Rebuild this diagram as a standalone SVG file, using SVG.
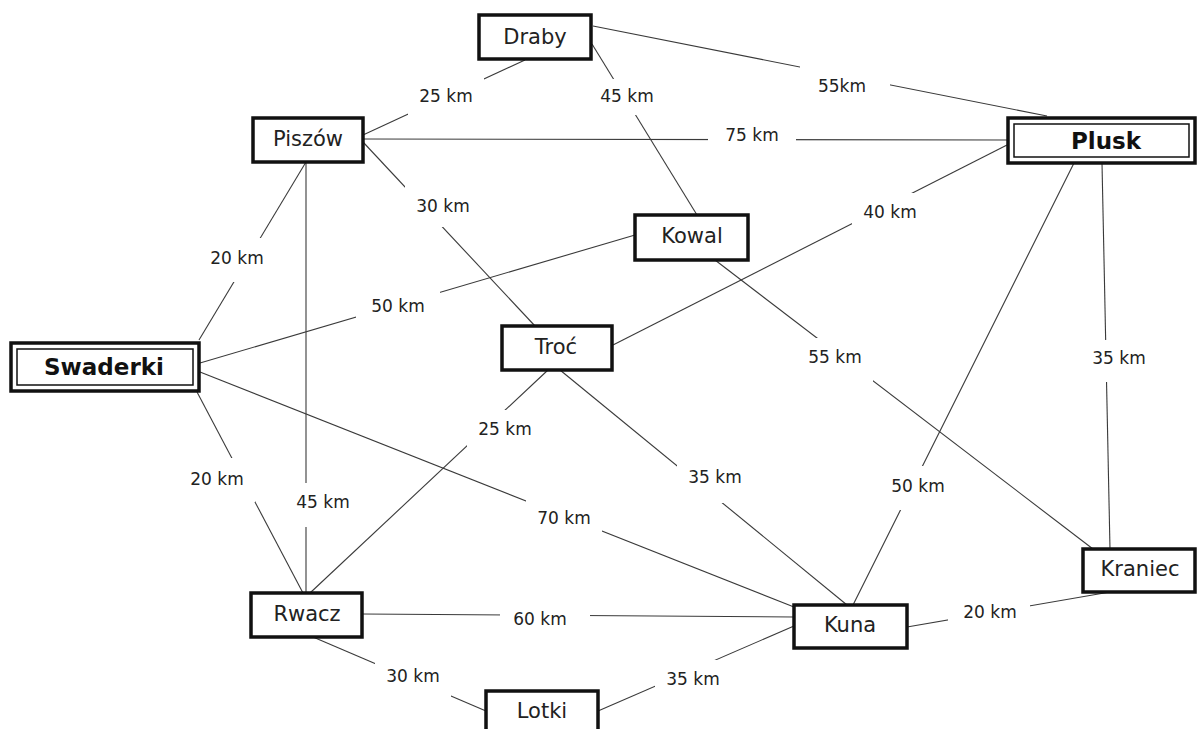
<svg xmlns="http://www.w3.org/2000/svg" width="1197" height="729" viewBox="0 0 1197 729">
<style>
.e line{stroke:#3a3a3a;stroke-width:1.1;fill:none}
.bg{fill:#fff}
.lb{font-family:"DejaVu Sans",sans-serif;font-size:17px;fill:#222;text-anchor:middle}
.box{fill:#fff;stroke:#111;stroke-width:3.5}
.in{fill:none;stroke:#111;stroke-width:1.5}
.nt{font-family:"DejaVu Sans",sans-serif;font-size:21px;fill:#222;text-anchor:middle}
.bt{font-family:"DejaVu Sans",sans-serif;font-size:23px;font-weight:bold;fill:#111;text-anchor:middle}
</style>
<rect width="1197" height="729" fill="#fff"/>
<g id="connectors" class="e">
<line x1="525" y1="60" x2="363" y2="135"/>
<line x1="592" y1="44" x2="697" y2="215"/>
<line x1="593" y1="26" x2="1047" y2="116"/>
<line x1="363" y1="139" x2="1007" y2="140"/>
<line x1="363" y1="142" x2="535" y2="326"/>
<line x1="306" y1="162" x2="199" y2="340"/>
<line x1="306" y1="162" x2="306" y2="593"/>
<line x1="635" y1="235" x2="200" y2="363"/>
<line x1="715" y1="260" x2="1093" y2="549"/>
<line x1="613" y1="345" x2="1007" y2="145"/>
<line x1="548" y1="370" x2="310" y2="593"/>
<line x1="560" y1="370" x2="847" y2="605"/>
<line x1="200" y1="372" x2="794" y2="607"/>
<line x1="197" y1="392" x2="303" y2="593"/>
<line x1="1074" y1="163" x2="853" y2="605"/>
<line x1="1102" y1="163" x2="1110" y2="549"/>
<line x1="362" y1="614" x2="794" y2="617"/>
<line x1="313" y1="637" x2="486" y2="711"/>
<line x1="598" y1="711" x2="794" y2="626"/>
<line x1="907" y1="627" x2="1110" y2="592"/>
</g>
<g id="labels">
<rect class="bg" x="408" y="77" width="76" height="38"/><text class="lb" x="446" y="102">25 km</text>
<rect class="bg" x="592" y="79" width="70" height="36"/><text class="lb" x="627" y="102">45 km</text>
<rect class="bg" x="800" y="64" width="90" height="42"/><text class="lb" x="842" y="92">55km</text>
<rect class="bg" x="708" y="118" width="88" height="34"/><text class="lb" x="752" y="141">75 km</text>
<rect class="bg" x="405" y="185" width="76" height="42"/><text class="lb" x="443" y="212">30 km</text>
<rect class="bg" x="199" y="238" width="76" height="44"/><text class="lb" x="237" y="264">20 km</text>
<rect class="bg" x="356" y="289" width="84" height="36"/><text class="lb" x="398" y="312">50 km</text>
<rect class="bg" x="179" y="458" width="76" height="44"/><text class="lb" x="217" y="485">20 km</text>
<rect class="bg" x="285" y="483" width="76" height="44"/><text class="lb" x="323" y="508">45 km</text>
<rect class="bg" x="467" y="410" width="76" height="42"/><text class="lb" x="505" y="435">25 km</text>
<rect class="bg" x="526" y="497" width="76" height="42"/><text class="lb" x="564" y="524">70 km</text>
<rect class="bg" x="797" y="338" width="76" height="44"/><text class="lb" x="835" y="363">55 km</text>
<rect class="bg" x="677" y="461" width="76" height="42"/><text class="lb" x="715" y="483">35 km</text>
<rect class="bg" x="880" y="466" width="76" height="44"/><text class="lb" x="918" y="492">50 km</text>
<rect class="bg" x="1081" y="340" width="76" height="42"/><text class="lb" x="1119" y="364">35 km</text>
<rect class="bg" x="852" y="193" width="76" height="42"/><text class="lb" x="890" y="218">40 km</text>
<rect class="bg" x="500" y="602" width="90" height="34"/><text class="lb" x="540" y="625">60 km</text>
<rect class="bg" x="375" y="657" width="76" height="40"/><text class="lb" x="413" y="682">30 km</text>
<rect class="bg" x="655" y="660" width="76" height="40"/><text class="lb" x="693" y="685">35 km</text>
<rect class="bg" x="948" y="595" width="82" height="34"/><text class="lb" x="990" y="618">20 km</text>
</g>
<g id="node-draby"><rect class="box" x="479" y="15" width="112" height="44"/><text class="nt" x="535" y="44">Draby</text></g>
<g id="node-piszow"><rect class="box" x="253" y="118" width="110" height="44"/><text class="nt" x="308" y="146">Piszów</text></g>
<g id="node-plusk"><rect class="box" x="1008" y="118" width="187" height="45"/><rect class="in" x="1014" y="124" width="175" height="33"/><text class="bt" x="1106" y="149">Plusk</text></g>
<g id="node-swaderki"><rect class="box" x="11" y="343" width="188" height="48"/><rect class="in" x="17" y="349" width="176" height="36"/><text class="bt" x="104" y="375">Swaderki</text></g>
<g id="node-kowal"><rect class="box" x="635" y="215" width="113" height="45"/><text class="nt" x="692" y="243">Kowal</text></g>
<g id="node-troc"><rect class="box" x="502" y="326" width="110" height="44"/><text class="nt" x="556" y="354">Troć</text></g>
<g id="node-rwacz"><rect class="box" x="251" y="593" width="111" height="44"/><text class="nt" x="307" y="621">Rwacz</text></g>
<g id="node-lotki"><rect class="box" x="486" y="691" width="112" height="43"/><text class="nt" x="542" y="718">Lotki</text></g>
<g id="node-kuna"><rect class="box" x="794" y="605" width="113" height="43"/><text class="nt" x="850" y="632">Kuna</text></g>
<g id="node-kraniec"><rect class="box" x="1083" y="549" width="112" height="43"/><text class="nt" x="1140" y="576">Kraniec</text></g>
</svg>
